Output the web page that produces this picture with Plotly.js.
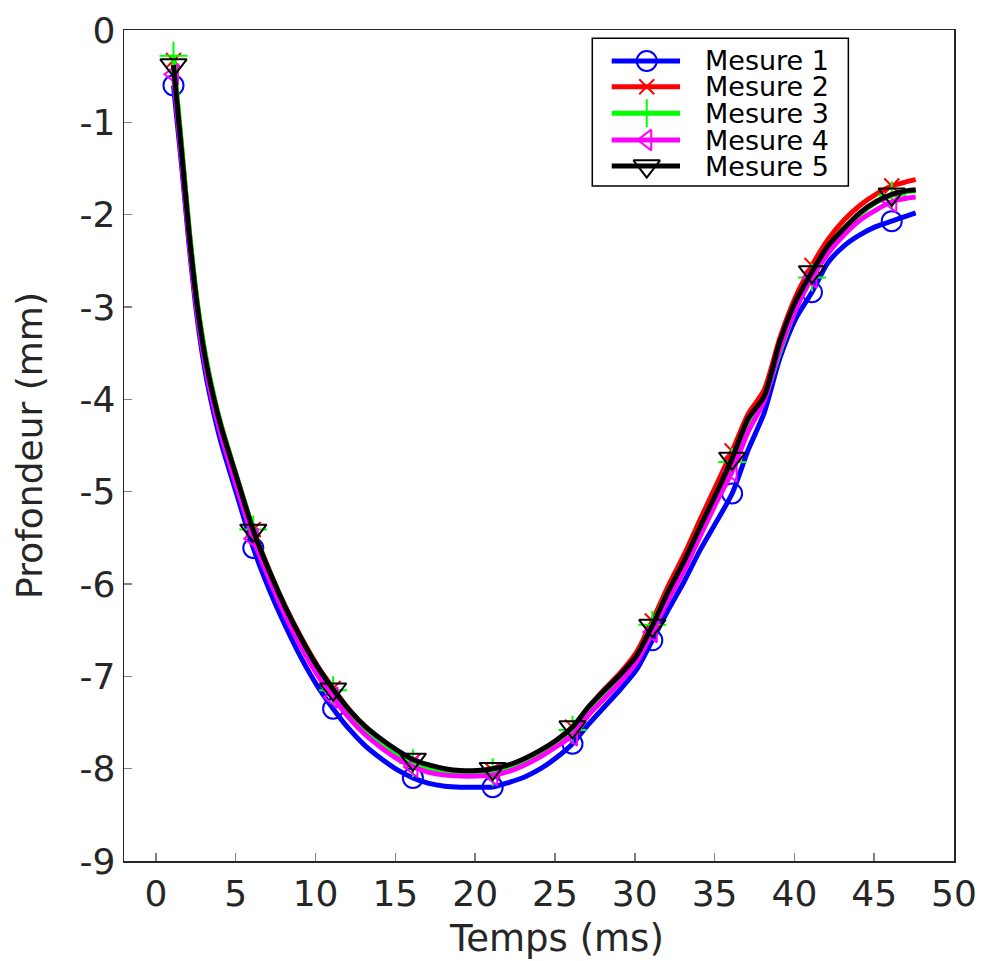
<!DOCTYPE html>
<html>
<head>
<meta charset="utf-8">
<script src="https://cdn.plot.ly/plotly-3.0.1.min.js"></script>
<style>html,body{margin:0;padding:0;background:#fff;}#chart{width:986px;height:961px;}</style>
</head>
<body>
<div id="chart"></div>
<script>
// ---- DATA ----
const time = [1.1,1.6,2.1,2.6,3.1,3.6,4.1,5.1,6.1,7.1,8.1,9.1,10.1,11.1,12.1,13.1,14.1,15.1,16.1,17.1,18.1,19.1,20.1,
  21.1,22.1,23.1,24.1,25.1,26.1,27.1,28.1,29.1,30.1,31.1,32.1,33.1,34.1,35.1,36.1,37.1,38.1,39.1,40.1,
  41.1,42.1,43.1,44.1,45.1,46.1,47.1,47.6];

const mesure1 = [-0.60,-1.45,-2.37,-3.14,-3.71,-4.13,-4.48,-5.05,-5.61,-6.06,-6.45,-6.80,-7.10,
  -7.35,-7.57,-7.75,-7.89,-8.01,-8.10,-8.16,-8.19,-8.20,-8.20,
  -8.20,-8.15,-8.09,-8.00,-7.88,-7.73,-7.52,-7.33,-7.14,-6.93,
  -6.61,-6.28,-5.97,-5.63,-5.33,-5.02,-4.55,-4.15,-3.55,-3.12,
  -2.84,-2.52,-2.34,-2.22,-2.13,-2.07,-2.01,-1.98];

const mesure2 = [-0.33,-1.26,-2.20,-2.97,-3.53,-3.95,-4.29,-4.86,-5.41,-5.85,-6.24,-6.58,-6.88,
  -7.13,-7.36,-7.55,-7.69,-7.82,-7.92,-7.98,-8.02,-8.03,-8.04,
  -8.02,-7.97,-7.90,-7.81,-7.70,-7.55,-7.34,-7.14,-6.96,-6.74,
  -6.40,-6.02,-5.68,-5.30,-4.93,-4.56,-4.16,-3.90,-3.33,-2.88,
  -2.55,-2.27,-2.06,-1.90,-1.78,-1.69,-1.64,-1.62];

const mesure3 = [-0.28,-1.24,-2.19,-2.96,-3.52,-3.94,-4.29,-4.86,-5.41,-5.86,-6.25,-6.60,-6.90,
  -7.15,-7.38,-7.57,-7.71,-7.84,-7.94,-8.00,-8.04,-8.05,-8.05,
  -8.04,-7.99,-7.92,-7.83,-7.72,-7.58,-7.37,-7.18,-7.00,-6.79,
  -6.44,-6.08,-5.76,-5.40,-5.05,-4.68,-4.28,-4.00,-3.48,-3.02,
  -2.68,-2.40,-2.18,-2.00,-1.87,-1.79,-1.75,-1.74];

const mesure4 = [-0.48,-1.39,-2.32,-3.08,-3.64,-4.06,-4.40,-4.97,-5.51,-5.95,-6.34,-6.68,-6.98,
  -7.23,-7.45,-7.63,-7.77,-7.89,-7.98,-8.04,-8.07,-8.08,-8.08,
  -8.07,-8.03,-7.96,-7.87,-7.76,-7.64,-7.42,-7.24,-7.06,-6.85,
  -6.52,-6.17,-5.85,-5.48,-5.12,-4.78,-4.35,-4.02,-3.45,-3.02,
  -2.68,-2.42,-2.22,-2.06,-1.95,-1.86,-1.82,-1.81];

const mesure5 = [-0.38,-1.30,-2.24,-3.00,-3.56,-3.97,-4.31,-4.87,-5.42,-5.86,-6.25,-6.59,-6.89,
  -7.14,-7.36,-7.54,-7.68,-7.80,-7.90,-7.96,-8.00,-8.02,-8.02,
  -8.00,-7.96,-7.89,-7.80,-7.69,-7.55,-7.33,-7.15,-6.98,-6.78,
  -6.45,-6.08,-5.75,-5.38,-5.02,-4.64,-4.21,-3.97,-3.37,-2.93,
  -2.62,-2.34,-2.15,-1.98,-1.86,-1.78,-1.74,-1.73];

const markerTimes = [1.1,6.1,11.1,16.1,21.1,26.1,31.1,36.1,41.1,46.1];
const seriesNames = ["Mesure 1","Mesure 2","Mesure 3","Mesure 4","Mesure 5"];
const xTickVals = [0,5,10,15,20,25,30,35,40,45,50];
const xTickText = ["0","5","10","15","20","25","30","35","40","45","50"];
const yTickVals = [0,-1,-2,-3,-4,-5,-6,-7,-8,-9];
const yTickText = ["0","-1","-2","-3","-4","-5","-6","-7","-8","-9"];
const xTitle = "Temps (ms)";
const yTitle = "Profondeur (mm)";

// ---- STYLES ----
const seriesData = [mesure1, mesure2, mesure3, mesure4, mesure5];
const colors = ["#0000ff","#ff0000","#00ff00","#ff00ff","#000000"];
const symbols = ["circle-open","x-thin-open","cross-thin-open","triangle-left-open","triangle-down-open"];
const msizes = [20,15,20,18,23];

const traces = [];
seriesData.forEach((ys, i) => {
  traces.push({
    x: time, y: ys, type: "scatter", mode: "lines",
    line: {color: colors[i], width: 5, shape: "spline", smoothing: 0.7},
    showlegend: false, hoverinfo: "skip"
  });
  const mx = [], my = [];
  time.forEach((t, k) => {
    if (markerTimes.some(m => Math.abs(m - t) < 1e-6)) { mx.push(t); my.push(ys[k]); }
  });
  traces.push({
    x: mx, y: my, type: "scatter", mode: "markers",
    marker: {symbol: symbols[i], size: msizes[i], color: colors[i], line: {color: colors[i], width: 2}},
    showlegend: false, hoverinfo: "skip", cliponaxis: false
  });
});

// ---- custom legend (overlay axes in paper fractions) ----
const legX0 = 0.5876, legX1 = 0.6699, legXm = 0.6298, legTextX = 0.698;
const legRows = [0.9627, 0.9318, 0.8998, 0.8676, 0.8363];
const annotations = [];
seriesNames.forEach((name, i) => {
  traces.push({
    x: [legX0, legX1], y: [legRows[i], legRows[i]], xaxis: "x2", yaxis: "y2",
    type: "scatter", mode: "lines", line: {color: colors[i], width: 5},
    showlegend: false, hoverinfo: "skip", cliponaxis: false
  });
  traces.push({
    x: [legXm], y: [legRows[i]], xaxis: "x2", yaxis: "y2",
    type: "scatter", mode: "markers",
    marker: {symbol: symbols[i], size: msizes[i], color: colors[i], line: {color: colors[i], width: 2}},
    showlegend: false, hoverinfo: "skip", cliponaxis: false
  });
  annotations.push({
    xref: "paper", yref: "paper", x: legTextX, y: legRows[i],
    xanchor: "left", yanchor: "middle", showarrow: false, text: name,
    font: {family: "DejaVu Sans", size: 27, color: "#000000"}
  });
});
// x-axis title (placed as in the reference)
annotations.push({
  xref: "paper", yref: "paper", x: (556 - 124) / 830, y: -0.093,
  xanchor: "center", yanchor: "middle", showarrow: false, text: xTitle,
  font: {family: "DejaVu Sans", size: 37, color: "#262626"}
});

const layout = {
  width: 986, height: 961,
  margin: {l: 124, r: 32, t: 30, b: 100},
  paper_bgcolor: "#ffffff", plot_bgcolor: "#ffffff",
  font: {family: "DejaVu Sans", color: "#262626"},
  showlegend: false,
  xaxis: {
    range: [-2, 50], tickvals: xTickVals, ticktext: xTickText,
    ticks: "inside", ticklen: 8, tickcolor: "#808080", tickwidth: 1.5,
    showline: true, linecolor: "#262626", linewidth: 1.5, mirror: true,
    showgrid: false, zeroline: false,
    tickfont: {family: "DejaVu Sans", size: 36, color: "#262626"}
  },
  yaxis: {
    range: [-9, 0], tickvals: yTickVals, ticktext: yTickText,
    ticks: "inside", ticklen: 8, tickcolor: "#808080", tickwidth: 1.5,
    showline: true, linecolor: "#262626", linewidth: 1.5, mirror: true,
    showgrid: false, zeroline: false,
    tickfont: {family: "DejaVu Sans", size: 36, color: "#262626"},
    title: {text: yTitle, font: {family: "DejaVu Sans", size: 36, color: "#262626"}, standoff: 26}
  },
  xaxis2: {domain: [0, 1], range: [0, 1], visible: false, overlaying: "x", anchor: "y2", fixedrange: true},
  yaxis2: {domain: [0, 1], range: [0, 1], visible: false, overlaying: "y", anchor: "x2", fixedrange: true},
  shapes: [{
    type: "rect", xref: "paper", yref: "paper",
    x0: 0.5642, x1: 0.8727, y0: 0.8123, y1: 0.990,
    line: {color: "#000000", width: 1.5}, fillcolor: "#ffffff", layer: "below"
  }],
  annotations: annotations
};

Plotly.newPlot("chart", traces, layout, {displayModeBar: false, staticPlot: true});
</script>
</body>
</html>
